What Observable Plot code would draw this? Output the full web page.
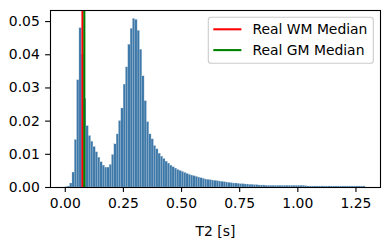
<!DOCTYPE html>
<html>
<head>
<meta charset="utf-8">
<script src="https://cdn.jsdelivr.net/npm/d3@7"></script>
<script src="https://cdn.jsdelivr.net/npm/@observablehq/plot@0.6"></script>
<style>
  html, body { margin: 0; padding: 0; background: white; }
  #chart { width: 390px; height: 240px; }
</style>
</head>
<body>
<div id="chart"></div>
<script>
// Histogram of T2 [s] (density), bin edges start at binStart with constant binWidth
const binStart = 0.001;
const binWidth = 0.01;
const density = [
  0.0001, 0.0003, 0.0012, 0.0045, 0.0143, 0.0323, 0.0480, 0.0400, 0.0267, 0.0185,
  0.0155, 0.0138, 0.0122, 0.0106, 0.0090, 0.0076, 0.0066, 0.0060, 0.0060, 0.0068,
  0.0098, 0.0130, 0.0160, 0.0200, 0.0238, 0.0310, 0.0362, 0.0430, 0.0478, 0.0508,
  0.0505, 0.0472, 0.0415, 0.0335, 0.0260, 0.0197, 0.0160, 0.0145, 0.0125, 0.0115,
  0.0102, 0.0093, 0.0086, 0.0078, 0.0072, 0.0066, 0.0061, 0.0057, 0.0053, 0.0050,
  0.0047, 0.0044, 0.0041, 0.0038, 0.0036, 0.0034, 0.0032, 0.0030, 0.0028, 0.0026,
  0.0024, 0.0023, 0.0022, 0.0021, 0.0020, 0.0019, 0.0018, 0.0017, 0.0016, 0.0015,
  0.0014, 0.0013, 0.0012, 0.0012, 0.0011, 0.0010, 0.0010, 0.0009, 0.0009, 0.0008,
  0.0008, 0.0007, 0.0007, 0.0006, 0.0006, 0.0006, 0.0005, 0.0005, 0.0005, 0.0005,
  0.0005, 0.0005, 0.0005, 0.0005, 0.0005, 0.0005, 0.0005, 0.0005, 0.0005, 0.0005,
  0.0005, 0.0005, 0.0005, 0.0004, 0.0003, 0.0003, 0.0003, 0.0003, 0.0003, 0.0003,
  0.0003, 0.0003, 0.0003, 0.0003, 0.0003, 0.0003, 0.0003, 0.0003, 0.0003, 0.0003,
  0.0003, 0.0003, 0.0003, 0.0003, 0.0003, 0.0003, 0.0003, 0.0003, 0.0003
];

const medianLabels = ["Real WM Median", "Real GM Median"];
const medianValues = [0.074, 0.082];
const medianColors = ["red", "green"];

const xTicks = [0, 0.25, 0.5, 0.75, 1.0, 1.25];
const yTicks = [0, 0.01, 0.02, 0.03, 0.04, 0.05];
const xLabel = "T2 [s]";

// build table for the library
const bins = density.map((d, i) => ({
  x1: binStart + i * binWidth,
  x2: binStart + (i + 1) * binWidth,
  y: d
}));

// matplotlib-like 5% auto margins
const xLo = d3.min(bins, d => d.x1), xHi = d3.max(bins, d => d.x2);
const xPad = (xHi - xLo) * 0.05;
const yHi = d3.max(density) * 1.05;

const fontFamily = "'DejaVu Sans', sans-serif";
const fs = 13.9;

const chart = Plot.plot({
  width: 390,
  height: 240,
  marginLeft: 50,
  marginRight: 10,
  marginTop: 10,
  marginBottom: 53,
  style: { fontFamily, fontSize: fs + "px", background: "white", color: "black", overflow: "visible" },
  x: { domain: [xLo - xPad, xHi + xPad] },
  y: { domain: [0, yHi] },
  color: { type: "identity" },
  marks: [
    Plot.rectY(bins, { x1: "x1", x2: "x2", y1: 0, y2: "y", fill: "#3e79a9", stroke: "#b4c8d8", strokeWidth: 0.25, inset: 0 }),
    Plot.ruleX(medianValues, { x: d => d, stroke: (d, i) => medianColors[i], strokeWidth: 2.08 }),
    Plot.frame({ stroke: "black", strokeWidth: 1.1 }),
    Plot.axisX({ ticks: xTicks, tickFormat: d3.format(".2f"), tickSize: 4.9, tickPadding: 5.3, strokeWidth: 1.1,
                 label: xLabel, labelAnchor: "center", labelArrow: "none", labelOffset: 48 }),
    Plot.axisY({ ticks: yTicks, tickFormat: d3.format(".2f"), tickSize: 4.9, tickPadding: 5.8, strokeWidth: 1.1, label: null })
  ]
});

// legend (matplotlib style, upper right)
const svg = d3.select(chart);
const lg = svg.append("g")
  .attr("font-family", fontFamily)
  .attr("font-size", fs)
  .attr("text-anchor", "start");
lg.append("rect")
  .attr("x", 208.3).attr("y", 17.3).attr("width", 165).attr("height", 46)
  .attr("rx", 2.8).attr("ry", 2.8)
  .style("fill", "white").style("fill-opacity", 0.8)
  .style("stroke", "#cccccc").style("stroke-width", "1.1px");
medianLabels.forEach((lab, i) => {
  const cy = 29.3 + i * 20.8;
  lg.append("line").attr("x1", 213.3).attr("x2", 241.4).attr("y1", cy).attr("y2", cy)
    .style("stroke", medianColors[i]).style("stroke-width", "2.08px");
  lg.append("text").attr("x", 252.4).attr("y", cy + 4.9)
    .attr("text-anchor", "start").style("fill", "black").text(lab);
});

document.getElementById("chart").appendChild(chart);
</script>
</body>
</html>
